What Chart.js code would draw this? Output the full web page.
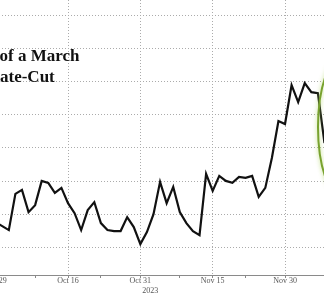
<!DOCTYPE html>
<html>
<head>
<meta charset="utf-8">
<script src="https://cdn.jsdelivr.net/npm/chart.js@4.4.1/dist/chart.umd.min.js"></script>
<style>
html,body{margin:0;padding:0;background:#fff;overflow:hidden;width:324px;height:293px;}
#wrap{position:absolute;left:-40px;top:0;width:404px;height:293px;}
</style>
</head>
<body>
<div id="wrap"><canvas id="c"></canvas></div>
<script>
// Trading-day series (index 0 = Sep 29, one point per weekday)
const seriesValues = [17.7,16.5,15.3,26.2,27.4,20.7,22.8,30.1,29.5,26.5,28.0,23.4,20.4,15.3,21.3,23.7,17.4,15.3,15.0,15.0,19.2,16.2,11.1,14.7,20.1,29.8,23.4,28.3,20.7,17.4,15.0,13.8,32.2,27.1,31.6,30.1,29.5,31.3,31.0,31.6,25.3,28.0,37.0,48.1,47.2,58.9,53.8,59.5,56.8,56.5,41.5];
const tickLabels = ['Sep 29','Oct 16','Oct 31','Nov 15','Nov 30'];
const tickIndex = [0,11,22,33,44];
const minorTickIndex = [6,16,28,38];
const yGridValues = [10,20,30,40,50,60,70,80];
const yearLabel = '2023';
const titleLines = ['of a March','Rate-Cut'];

const points = seriesValues.map((v,i)=>({x:i,y:v}));
const allTicks = tickIndex.concat(minorTickIndex).sort((a,b)=>a-b);

const GRID = '#ababab';
const OFF = 40; // canvas offset to page

const overlay = {
  id:'overlay',
  afterDatasetsDraw(chart){
    const ctx = chart.ctx;
    ctx.save();
    ctx.beginPath();
    ctx.ellipse(342+OFF,127,24,70,0,0,Math.PI*2);
    ctx.shadowColor='rgba(170,210,90,0.8)';
    ctx.shadowBlur=4;
    ctx.strokeStyle='#78a22e';
    ctx.lineWidth=2;
    ctx.stroke();
    ctx.restore();
  },
  afterDraw(chart){
    const ctx = chart.ctx;
    ctx.save();
    ctx.fillStyle='#111';
    ctx.font='bold 17px "Liberation Serif"';
    ctx.textBaseline='alphabetic';
    ctx.textAlign='left';
    ctx.fillText(titleLines[0], -0.5+OFF, 61);
    const rw = ctx.measureText('R').width;
    ctx.fillText(titleLines[1], OFF-rw, 82);
    ctx.font='8px "Liberation Serif"';
    ctx.fillStyle='#555';
    ctx.textAlign='center';
    const xs = chart.scales.x;
    ctx.fillText(yearLabel, xs.getPixelForValue(tickIndex[2])+10, 292.5);
    ctx.restore();
  }
};

new Chart(document.getElementById('c'),{
  type:'line',
  data:{datasets:[{data:points,borderColor:'#111',borderWidth:2.2,pointRadius:0,tension:0,fill:false}]},
  plugins:[overlay],
  options:{
    responsive:true,maintainAspectRatio:false,animation:false,
    layout:{padding:0},
    plugins:{legend:{display:false},tooltip:{enabled:false},title:{display:false}},
    scales:{
      x:{
        type:'linear',
        min:-5.424, max:56.01,
        afterBuildTicks:(s)=>{s.ticks = allTicks.map(v=>({value:v}));},
        afterFit:(s)=>{s.height=18;},
        ticks:{
          autoSkip:false,maxRotation:0,padding:-2,
          color:'#555',font:{family:'"Liberation Serif"',size:8},
          callback:(v)=>{const i=tickIndex.indexOf(v);return i>=0?tickLabels[i]:'';}
        },
        grid:{
          color:(c)=> (c.tick && tickIndex.includes(c.tick.value)) ? GRID : 'rgba(0,0,0,0)',
          tickColor:'#888',tickLength:3,lineWidth:1
        },
        border:{display:true,color:'#8a8a8a',width:1,dash:[1,2]}
      },
      y:{
        min:1.79,max:84.52,
        afterBuildTicks:(s)=>{s.ticks = yGridValues.map(v=>({value:v}));},
        afterFit:(s)=>{s.width=0;},
        ticks:{display:false},
        grid:{color:GRID,drawTicks:false,lineWidth:1},
        border:{display:false,dash:[1,2]}
      }
    }
  }
});
</script>
</body>
</html>
